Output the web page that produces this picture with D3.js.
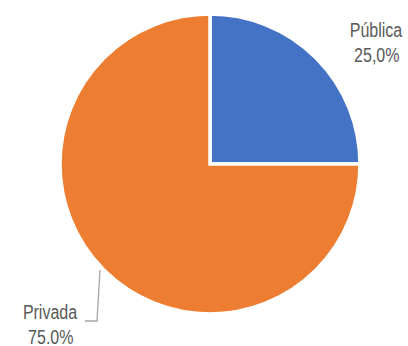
<!DOCTYPE html>
<html>
<head>
<meta charset="utf-8" />
<script src="https://d3js.org/d3.v7.min.js"></script>
<style>
  body { margin: 0; background: #fff; }
  text { font-family: 'Liberation Sans Narrow', 'Liberation Sans', Arial, sans-serif; font-size: 20px; fill: #595959; }
</style>
</head>
<body>
<svg id="chart" width="408" height="346"></svg>
<script>
// data
var categories = ["Pública", "Privada"];
var values = [25, 75];
var valueLabels = ["25,0%", "75.0%"];
var colors = ["#4472C4", "#ED7D31"];

var svg = d3.select("#chart");
var cx = 210, cy = 164, r = 150;

var data = categories.map(function(c, i) {
  return { name: c, value: values[i], label: valueLabels[i], color: colors[i] };
});

var pie = d3.pie().sort(null).value(function(d) { return d.value; });
var arc = d3.arc().innerRadius(0).outerRadius(r);

var g = svg.append("g").attr("transform", "translate(" + cx + "," + cy + ")");

g.selectAll("path")
  .data(pie(data))
  .enter().append("path")
  .attr("d", arc)
  .attr("fill", function(d) { return d.data.color; })
  .attr("stroke", "#fff")
  .attr("stroke-width", 3.5);

// label placement (layout, not data)
var labelPos = [
  { x: 166, y: -127, line: null },
  { x: -160, y: 155, line: [[-110, 106], [-113, 157], [-125, 157]] }
];

pie(data).forEach(function(d, i) {
  var p = labelPos[i];
  if (p.line) {
    g.append("path")
      .attr("d", d3.line()(p.line))
      .attr("fill", "none")
      .attr("stroke", "#a6a6a6")
      .attr("stroke-width", 1.3);
  }
  // the original uses a narrow font, squeeze horizontally
  var t = g.append("text").attr("text-anchor", "middle")
    .attr("transform", "translate(" + p.x + "," + p.y + ") scale(0.8,1)");
  t.append("tspan").attr("x", 0).text(d.data.name);
  t.append("tspan").attr("x", 1).attr("dy", 25).text(d.data.label);
});
</script>
</body>
</html>
